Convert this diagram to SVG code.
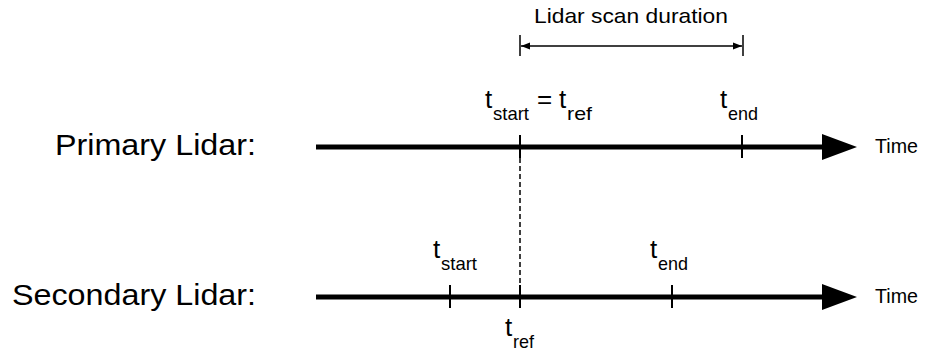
<svg xmlns="http://www.w3.org/2000/svg" width="927" height="355" viewBox="0 0 927 355">
  <style>
    text { font-family: "Liberation Sans", Arial, sans-serif; fill: #000; }
    .lbl { font-size: 30px; }
    .time { font-size: 21px; }
    .dur { font-size: 21px; }
    .t { font-size: 26px; }
    .sub { font-size: 19px; }
    .axis { stroke: #000; stroke-width: 5; fill: none; }
    .tick { stroke: #000; stroke-width: 2; }
    .dash { stroke: #000; stroke-width: 1.5; stroke-dasharray: 5 3; fill: none; }
    .dim { stroke: #000; stroke-width: 1.5; fill: none; }
  </style>
  <defs>
    <marker id="bigArrow" markerUnits="userSpaceOnUse" markerWidth="36" markerHeight="28" viewBox="0 0 36 28" refX="1" refY="13" orient="auto">
      <path d="M0,0 L35,13 L0,26 z" fill="#000"/>
    </marker>
    <marker id="smallArrow" markerUnits="userSpaceOnUse" markerWidth="10" markerHeight="8" viewBox="0 0 10 8" refX="9" refY="4" orient="auto-start-reverse">
      <path d="M0,0.5 L9,4 L0,7.5 z" fill="#000"/>
    </marker>
  </defs>

  <g id="connectors">
    <line class="axis" x1="316" y1="147" x2="823" y2="147" marker-end="url(#bigArrow)"/>
    <line class="axis" x1="316" y1="297" x2="823" y2="297" marker-end="url(#bigArrow)"/>
    <line class="tick" x1="520" y1="135" x2="520" y2="158"/>
    <line class="tick" x1="742" y1="135" x2="742" y2="158"/>
    <line class="tick" x1="450" y1="285" x2="450" y2="308"/>
    <line class="tick" x1="520" y1="285" x2="520" y2="308"/>
    <line class="tick" x1="672" y1="285" x2="672" y2="308"/>
    <line class="dash" x1="520" y1="158" x2="520" y2="285"/>
    <line class="dim" x1="521" y1="46" x2="742" y2="46" marker-start="url(#smallArrow)" marker-end="url(#smallArrow)"/>
    <line class="tick" x1="520" y1="35" x2="520" y2="56" style="stroke-width:1.5"/>
    <line class="tick" x1="743" y1="35" x2="743" y2="56" style="stroke-width:1.5"/>
  </g>

  <g id="duration-label">
    <text class="dur" x="534" y="23" textLength="194" lengthAdjust="spacingAndGlyphs">Lidar scan duration</text>
  </g>
  <g id="primary-label">
    <text class="lbl" x="55" y="155" textLength="201" lengthAdjust="spacingAndGlyphs">Primary Lidar:</text>
  </g>
  <g id="secondary-label">
    <text class="lbl" x="12" y="305" textLength="244" lengthAdjust="spacingAndGlyphs">Secondary Lidar:</text>
  </g>
  <g id="primary-time">
    <text class="time" x="875" y="153" textLength="43" lengthAdjust="spacingAndGlyphs">Time</text>
  </g>
  <g id="secondary-time">
    <text class="time" x="875" y="303" textLength="43" lengthAdjust="spacingAndGlyphs">Time</text>
  </g>
  <g id="primary-tstart">
    <text class="t" x="485" y="108">t<tspan class="sub" x="493" y="120" textLength="36" lengthAdjust="spacingAndGlyphs">start</tspan><tspan x="537" y="108">=</tspan><tspan x="559" y="108">t</tspan><tspan class="sub" x="567" y="120" textLength="25" lengthAdjust="spacingAndGlyphs">ref</tspan></text>
  </g>
  <g id="primary-tend">
    <text class="t" x="720" y="108">t<tspan class="sub" x="728" y="120" textLength="30" lengthAdjust="spacingAndGlyphs">end</tspan></text>
  </g>
  <g id="secondary-tstart">
    <text class="t" x="433" y="258">t<tspan class="sub" x="441" y="270" textLength="36" lengthAdjust="spacingAndGlyphs">start</tspan></text>
  </g>
  <g id="secondary-tend">
    <text class="t" x="650" y="258">t<tspan class="sub" x="658" y="270" textLength="30" lengthAdjust="spacingAndGlyphs">end</tspan></text>
  </g>
  <g id="secondary-tref">
    <text class="t" x="505" y="336">t<tspan class="sub" x="513" y="348" textLength="21" lengthAdjust="spacingAndGlyphs">ref</tspan></text>
  </g>
</svg>
